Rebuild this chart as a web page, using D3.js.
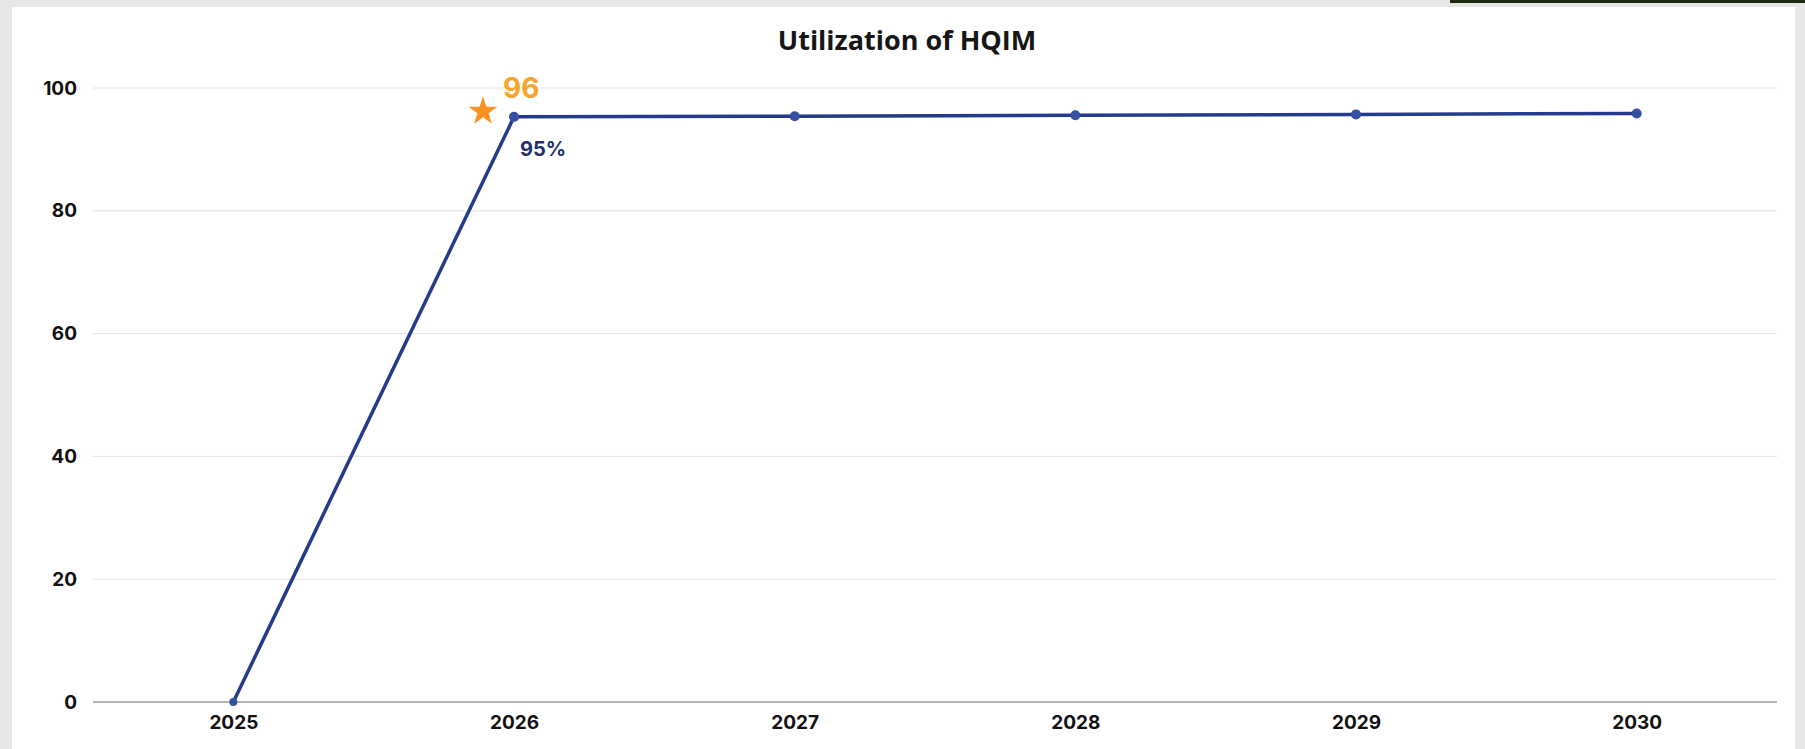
<!DOCTYPE html>
<html>
<head>
<meta charset="utf-8">
<script src="https://cdn.jsdelivr.net/npm/d3@7"></script>
<style>
  body { margin: 0; background: #e7e7e5; }
  svg { display: block; }
  .tick text { font-family: Inter, "Open Sans", sans-serif; font-weight: 700; fill: #111; }
</style>
</head>
<body>
<div id="chart"></div>
<script>
// data
var years = ["2025", "2026", "2027", "2028", "2029", "2030"];
var utilization = [0, 95.3, 95.4, 95.55, 95.7, 95.85];
var yTicks = [0, 20, 40, 60, 80, 100];
var target = { year: "2026", value: 96, label: "96" };
var pointLabel = { year: "2026", text: "95%" };

var width = 1805, height = 749;

var svg = d3.select('#chart').append('svg')
    .attr('width', width)
    .attr('height', height);

// paper card + scan edges
svg.append('rect').attr('x', 0).attr('y', 0).attr('width', width).attr('height', height).attr('fill', '#e7e7e5');
svg.append('rect').attr('x', 12).attr('y', 7).attr('width', 1783).attr('height', height - 7).attr('fill', '#fff');
svg.append('rect').attr('x', 1450).attr('y', 0).attr('width', 355).attr('height', 3).attr('fill', '#1d2a12');

var x = d3.scalePoint()
    .domain(years)
    .range([93, 1777])
    .padding(0.5);

var y = d3.scaleLinear()
    .domain([0, 100])
    .range([702, 88]);

// title
svg.append('text')
    .attr('x', 907)
    .attr('y', 50)
    .attr('text-anchor', 'middle')
    .style('font-family', '"Open Sans", sans-serif')
    .style('font-weight', 700)
    .style('font-size', '27px')
    .style('fill', '#161616')
    .text('Utilization of HQIM');

// gridlines
svg.append('g')
    .selectAll('line')
    .data(yTicks)
    .enter()
    .append('line')
    .attr('x1', 93)
    .attr('x2', 1777)
    .attr('y1', function(d){ return y(d); })
    .attr('y2', function(d){ return y(d); })
    .attr('stroke', function(d){ return d === 0 ? '#9a9a9a' : '#e2e2e2'; })
    .attr('stroke-width', function(d){ return d === 0 ? 1.5 : 1; });

// axes (text only)
var yAxis = svg.append('g')
    .attr('transform', 'translate(77,0)')
    .call(d3.axisLeft(y).tickValues(yTicks).tickSize(0).tickPadding(0));
yAxis.select('.domain').remove();
yAxis.selectAll('text').style('font-size', '19px');

var xAxis = svg.append('g')
    .attr('transform', 'translate(0,' + 712 + ')')
    .call(d3.axisBottom(x).tickSize(0).tickPadding(3));
xAxis.select('.domain').remove();
xAxis.selectAll('text').style('font-size', '19px');

// line
var pts = years.map(function(d, i){ return { year: d, value: utilization[i] }; });

var line = d3.line()
    .x(function(d){ return x(d.year); })
    .y(function(d){ return y(d.value); });

svg.append('path')
    .datum(pts)
    .attr('d', line)
    .attr('fill', 'none')
    .attr('stroke', '#243a8c')
    .attr('stroke-width', 3.5)
    .attr('stroke-linejoin', 'round');

svg.append('g')
    .selectAll('circle')
    .data(pts)
    .enter()
    .append('circle')
    .attr('cx', function(d){ return x(d.year); })
    .attr('cy', function(d){ return y(d.value); })
    .attr('r', function(d){ return d.value === 0 ? 4 : 5; })
    .attr('fill', '#3550a0');

// target star + label
var star = d3.symbol().type(d3.symbolStar).size(260);
svg.append('path')
    .attr('d', star)
    .attr('transform', 'translate(' + (x(target.year) - 31) + ',' + (y(target.value) - 1) + ')')
    .attr('fill', '#f7931e');

svg.append('text')
    .attr('x', x(target.year) - 11)
    .attr('y', y(target.value) - 15)
    .style('font-family', 'Inter, sans-serif')
    .style('font-weight', 700)
    .style('font-size', '28px')
    .style('fill', '#f6a52b')
    .text(target.label);

svg.append('text')
    .attr('x', x(pointLabel.year) + 6)
    .attr('y', y(utilization[years.indexOf(pointLabel.year)]) + 39)
    .style('font-family', 'Inter, sans-serif')
    .style('font-weight', 700)
    .style('font-size', '20px')
    .style('fill', '#1f2f6e')
    .text(pointLabel.text);
</script>
</body>
</html>
